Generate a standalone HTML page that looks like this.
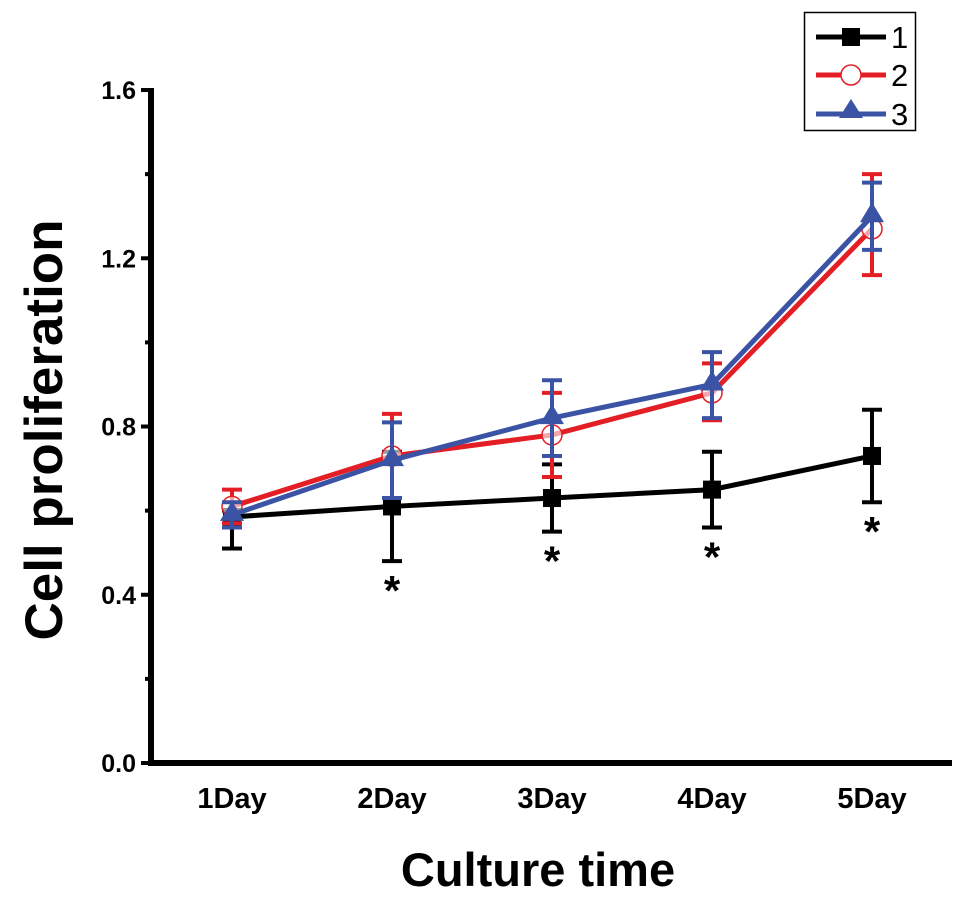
<!DOCTYPE html>
<html><head><meta charset="utf-8"><style>
body{margin:0;background:#fff;}
svg{display:block;font-family:"Liberation Sans",Arial,sans-serif;}
</style></head><body>
<svg id="chart" width="969" height="898" viewBox="0 0 969 898">
<g id="axes"></g>
<g id="series"></g>
<text transform="translate(62,430) rotate(-90)" text-anchor="middle" font-size="53" font-weight="bold">Cell proliferation</text>
<text x="538" y="886" text-anchor="middle" font-size="47" font-weight="bold">Culture time</text>
<g>
<rect x="804.5" y="12.5" width="111" height="118" fill="#fff" stroke="#000" stroke-width="1.5"/>
<line x1="816" y1="37" x2="886" y2="37" stroke="#000" stroke-width="5"/>
<rect x="842" y="28" width="18" height="18" fill="#000"/>
<text x="891" y="48" font-size="31">1</text>
<line x1="816" y1="75" x2="886" y2="75" stroke="#e31e24" stroke-width="5"/>
<circle cx="851" cy="75" r="10" fill="#fff" stroke="#e31e24" stroke-width="1.5"/>
<text x="891" y="86" font-size="31">2</text>
<line x1="816" y1="114" x2="886" y2="114" stroke="#3a53a4" stroke-width="5"/>
<polygon points="851,99 863,118 839,118" fill="#3a53a4"/>
<text x="891" y="125" font-size="31">3</text>
</g>
</svg>
<script>
const categories=["1Day","2Day","3Day","4Day","5Day"];
const yTicks=[0,0.4,0.8,1.2,1.6];
const yTickLabels=["0.0","0.4","0.8","1.2","1.6"];
const s1=[0.585,0.61,0.63,0.65,0.73];
const s1lo=[0.51,0.48,0.55,0.56,0.62];
const s1hi=[0.60,0.74,0.71,0.74,0.84];
const s2=[0.61,0.73,0.78,0.88,1.27];
const s2lo=[0.57,0.63,0.68,0.815,1.16];
const s2hi=[0.65,0.83,0.88,0.95,1.40];
const s3=[0.59,0.72,0.82,0.90,1.30];
const s3lo=[0.56,0.63,0.73,0.82,1.22];
const s3hi=[0.62,0.81,0.91,0.977,1.38];
const starCats=[1,2,3,4];
const NS="http://www.w3.org/2000/svg";
function X(i){return 232+i*160;}
function Y(v){return 763-v*420.6;}
function mk(tag,attrs,parent){const e=document.createElementNS(NS,tag);for(const k in attrs)e.setAttribute(k,attrs[k]);parent.appendChild(e);return e;}
const ax=document.getElementById('axes');
let l=mk('line',{x1:151,y1:88,x2:151,y2:765,stroke:'#000','stroke-width':6},ax);


l=mk('line',{x1:148,y1:763,x2:952,y2:763,stroke:'#000','stroke-width':6},ax);


yTicks.forEach((v,i)=>{
 const t=mk('line',{x1:141,y1:Y(v),x2:151,y2:Y(v),stroke:'#000','stroke-width':4},ax);
 
 
 const tx=mk('text',{x:136,y:Y(v)+9,'text-anchor':'end','font-size':25,'font-weight':'bold'},ax);
 tx.textContent=yTickLabels[i];
 
 
 if(i<yTicks.length-1){
  const m=mk('line',{x1:145,y1:Y(v+0.2),x2:151,y2:Y(v+0.2),stroke:'#000','stroke-width':4},ax);
  
  
 }
});
categories.forEach((c,i)=>{
 const tx=mk('text',{x:X(i),y:808,'text-anchor':'middle','font-size':29,'font-weight':'bold'},ax);
 tx.textContent=c;
 
 
});
const sg=document.getElementById('series');
function drawSeries(vals,lo,hi,color,marker,name){
 const g=mk('g',{},sg);
 
 
 vals.forEach((v,i)=>{
  mk('line',{x1:X(i),y1:Y(lo[i]),x2:X(i),y2:Y(hi[i]),stroke:color,'stroke-width':4},g);
  mk('line',{x1:X(i)-10,y1:Y(lo[i]),x2:X(i)+10,y2:Y(lo[i]),stroke:color,'stroke-width':4},g);
  mk('line',{x1:X(i)-10,y1:Y(hi[i]),x2:X(i)+10,y2:Y(hi[i]),stroke:color,'stroke-width':4},g);
 });
 const p=mk('polyline',{points:vals.map((v,i)=>X(i)+','+Y(v)).join(' '),fill:'none',stroke:color,'stroke-width':5},g);
 
 
 vals.forEach((v,i)=>{
  let m;
  if(marker==='square')m=mk('rect',{x:X(i)-9,y:Y(v)-9,width:18,height:18,fill:color},g);
  else if(marker==='circle')m=mk('circle',{cx:X(i),cy:Y(v),r:10,fill:'#fff','fill-opacity':0.6,stroke:color,'stroke-width':1.5},g);
  else m=mk('polygon',{points:`${X(i)},${Y(v)-14} ${X(i)+12},${Y(v)+6} ${X(i)-12},${Y(v)+6}`,fill:color},g);
  
  
 });
}
drawSeries(s1,s1lo,s1hi,'#000','square','1');
drawSeries(s2,s2lo,s2hi,'#e31e24','circle','2');
drawSeries(s3,s3lo,s3hi,'#3a53a4','triangle','3');
starCats.forEach(i=>{
 const t=mk('text',{x:X(i),y:Y(s1lo[i])+44,'text-anchor':'middle','font-size':42,'font-weight':'bold'},sg);
 t.textContent='*';
 
 
});
</script>
</body></html>
